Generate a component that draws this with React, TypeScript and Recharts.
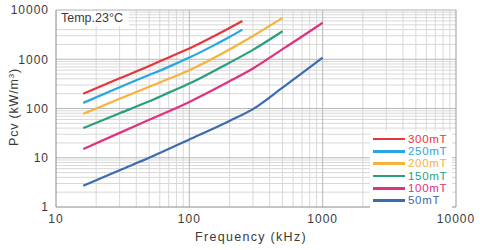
import { Legend, Line, LineChart, ReferenceLine, XAxis, YAxis } from "recharts";

// core loss curves (kHz -> kW/m3)
const freq300 = [16, 30, 50, 70, 100, 150, 200, 250];
const pcv300 = [200, 410, 730, 1090, 1650, 2850, 4300, 6000];

const freq250 = [16, 30, 50, 70, 100, 150, 200, 250];
const pcv250 = [130, 270, 480, 700, 1080, 1870, 2830, 4000];

const freq200 = [16, 30, 50, 70, 100, 200, 300, 500];
const pcv200 = [78, 157, 276, 400, 600, 1580, 2970, 6900];

const freq150 = [16, 30, 50, 70, 100, 200, 300, 500];
const pcv150 = [40, 80, 140, 210, 320, 850, 1550, 3700];

const freq100 = [16, 30, 50, 100, 200, 300, 500, 700, 1000];
const pcv100 = [15, 32, 59, 136, 357, 650, 1600, 2900, 5500];

const freq50 = [16, 30, 50, 100, 200, 300, 500, 700, 1000];
const pcv50 = [2.7, 5.6, 10, 23.5, 56, 97, 265, 520, 1080];

const xTicks = [10, 100, 1000, 10000];
const yTicks = [1, 10, 100, 1000, 10000];
const xMinor = [
  20, 30, 40, 50, 60, 70, 80, 90, 200, 300, 400, 500, 600, 700, 800, 900,
  2000, 3000, 4000, 5000, 6000, 7000, 8000, 9000,
];
const yMinor = [
  2, 3, 4, 5, 6, 7, 8, 9, 20, 30, 40, 50, 60, 70, 80, 90, 200, 300, 400, 500,
  600, 700, 800, 900, 2000, 3000, 4000, 5000, 6000, 7000, 8000, 9000,
];

const series = [
  { name: "300mT", color: "#e8353b", f: freq300, p: pcv300 },
  { name: "250mT", color: "#27a6e0", f: freq250, p: pcv250 },
  { name: "200mT", color: "#f6b23b", f: freq200, p: pcv200 },
  { name: "150mT", color: "#2a9f80", f: freq150, p: pcv150 },
  { name: "100mT", color: "#df3280", f: freq100, p: pcv100 },
  { name: "50mT", color: "#3a6cae", f: freq50, p: pcv50 },
].map((s) => ({ ...s, data: s.f.map((f, i) => ({ f, p: s.p[i] })) }));

const FONT = '"Liberation Sans", Arial, Helvetica, sans-serif';
const TEXT = "#3a3a3a";
const TICK = { fontSize: 12, letterSpacing: 1, fill: TEXT, fontFamily: FONT };

function LegendBox() {
  return (
    <div style={{ background: "#fff", padding: "2px 0 2px 3px" }}>
      {series.map((s) => (
        <div key={s.name} style={{ display: "flex", alignItems: "center", height: 12.3 }}>
          <span style={{ width: 32, height: 2.5, background: s.color, marginRight: 3 }} />
          <span
            style={{
              color: s.color,
              fontSize: 11.5,
              letterSpacing: 0.7,
              fontFamily: FONT,
              lineHeight: "11px",
            }}
          >
            {s.name}
          </span>
        </div>
      ))}
    </div>
  );
}

function YTitle() {
  return (
    <text
      transform="translate(18,107) rotate(-90)"
      textAnchor="middle"
      fontSize={12.5}
      letterSpacing={0.8}
      fill={TEXT}
      fontFamily={FONT}
    >
      Pcv (kW/m<tspan fontSize={8} dy={-4}>3</tspan>
      <tspan dy={4}>)</tspan>
    </text>
  );
}

export default function App() {
  return (
    <div style={{ position: "absolute", left: 0, top: 0, width: 480, height: 250, background: "#fff" }}>
      <LineChart width={480} height={250} margin={{ top: 10, right: 24, bottom: 0, left: 0 }}>
        <XAxis
          type="number"
          dataKey="f"
          scale="log"
          domain={[10, 10000]}
          ticks={xTicks}
          allowDataOverflow
          height={43}
          tickLine={false}
          tickSize={0}
          tickMargin={7}
          tick={TICK}
          stroke="#8a8a8a"
          label={{
            value: "Frequency (kHz)",
            position: "insideBottom",
            offset: 9,
            dx: -5,
            style: { fontSize: 12.5, letterSpacing: 1.3, fill: TEXT, fontFamily: FONT },
          }}
        />
        <YAxis
          type="number"
          dataKey="p"
          scale="log"
          domain={[1, 10000]}
          ticks={yTicks}
          allowDataOverflow
          width={56}
          tickLine={false}
          tickSize={0}
          tickMargin={7}
          tick={TICK}
          stroke="#8a8a8a"
          label={{ content: () => <YTitle /> }}
        />
        {xMinor.map((v) => (
          <ReferenceLine key={"x" + v} x={v} stroke="#d8d8d8" />
        ))}
        {yMinor.map((v) => (
          <ReferenceLine key={"y" + v} y={v} stroke="#d8d8d8" />
        ))}
        {[100, 1000].map((v) => (
          <ReferenceLine key={"X" + v} x={v} stroke="#b8b8b8" />
        ))}
        {[10, 100, 1000].map((v) => (
          <ReferenceLine key={"Y" + v} y={v} stroke="#b8b8b8" />
        ))}
        <ReferenceLine x={10000} stroke="#9a9a9a" />
        <ReferenceLine y={10000} stroke="#b0b0b0" />
        {series.map((s) => (
          <Line
            key={s.name}
            data={s.data}
            dataKey="p"
            name={s.name}
            type="monotone"
            stroke={s.color}
            strokeWidth={2.2}
            dot={false}
            isAnimationActive={false}
          />
        ))}
        <Legend
          layout="vertical"
          align="center"
          verticalAlign="middle"
          content={() => <LegendBox />}
          wrapperStyle={{ left: 370, top: 131, width: 82 }}
        />
      </LineChart>
      <div
        style={{
          position: "absolute",
          left: 57,
          top: 11,
          width: 72,
          height: 15,
          background: "#fff",
          color: TEXT,
          fontFamily: FONT,
          fontSize: 12.5,
          lineHeight: "15px",
          paddingLeft: 4,
          boxSizing: "border-box",
        }}
      >
        Temp.23°C
      </div>
    </div>
  );
}
